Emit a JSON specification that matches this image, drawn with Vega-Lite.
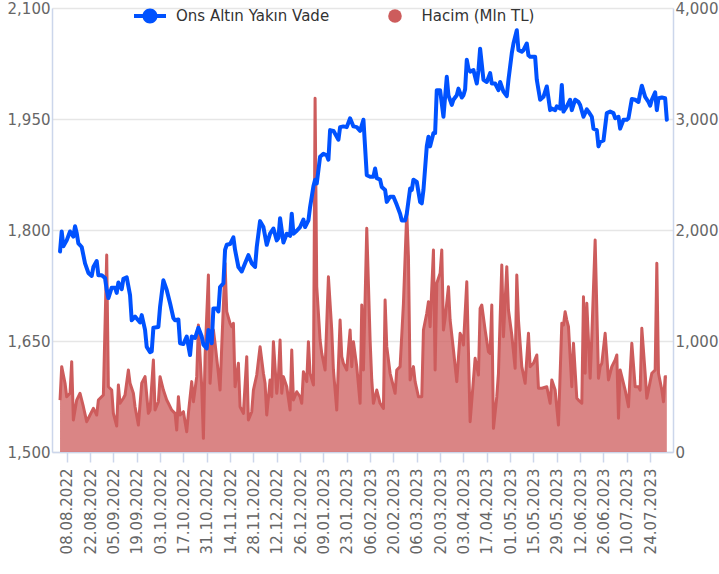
{
"$schema": "https://vega.github.io/schema/vega-lite/v6.json",
"width": 621, "height": 444,
"autosize": {"type": "none"},
"padding": {"left": 52, "top": 8, "right": 46, "bottom": 122},
"background": "white",
"config": {
  "font": "DejaVu Sans",
  "view": {"stroke": null},
  "axis": {"labelFont": "DejaVu Sans", "labelFontSize": 15, "labelColor": "#666666", "domainColor": "#ccd6eb", "domainWidth": 1.5, "gridColor": "#e6e6e6", "gridWidth": 1.5, "labelFlush": false, "labelOverlap": false},
  "legend": {"labelFont": "DejaVu Sans", "labelFontSize": 15, "labelColor": "#333333", "padding": 0}
},
"datasets": {
"price": [
{"date":"2022-08-04","price":1771},{"date":"2022-08-05","price":1798},{"date":"2022-08-06","price":1778},{"date":"2022-08-08","price":1786},{"date":"2022-08-10","price":1798},{"date":"2022-08-12","price":1791},{"date":"2022-08-13","price":1805},{"date":"2022-08-14","price":1796},{"date":"2022-08-15","price":1782},{"date":"2022-08-17","price":1777},{"date":"2022-08-19","price":1755},{"date":"2022-08-21","price":1742},{"date":"2022-08-23","price":1738},{"date":"2022-08-24","price":1750},{"date":"2022-08-26","price":1758},{"date":"2022-08-27","price":1739},{"date":"2022-08-29","price":1739},{"date":"2022-08-31","price":1735},
{"date":"2022-09-01","price":1719},{"date":"2022-09-02","price":1708},{"date":"2022-09-04","price":1722},{"date":"2022-09-06","price":1722},{"date":"2022-09-07","price":1715},{"date":"2022-09-08","price":1729},{"date":"2022-09-10","price":1720},{"date":"2022-09-11","price":1734},{"date":"2022-09-13","price":1736},{"date":"2022-09-15","price":1712},{"date":"2022-09-16","price":1678},{"date":"2022-09-18","price":1683},{"date":"2022-09-21","price":1675},{"date":"2022-09-22","price":1685},{"date":"2022-09-24","price":1665},{"date":"2022-09-25","price":1642},{"date":"2022-09-27","price":1635},{"date":"2022-09-28","price":1636},{"date":"2022-09-29","price":1668},
{"date":"2022-10-02","price":1669},{"date":"2022-10-03","price":1696},{"date":"2022-10-05","price":1732},{"date":"2022-10-07","price":1719},{"date":"2022-10-09","price":1701},{"date":"2022-10-11","price":1681},{"date":"2022-10-12","price":1678},{"date":"2022-10-14","price":1679},{"date":"2022-10-15","price":1647},{"date":"2022-10-17","price":1646},{"date":"2022-10-19","price":1656},{"date":"2022-10-21","price":1631},{"date":"2022-10-22","price":1656},{"date":"2022-10-24","price":1654},{"date":"2022-10-26","price":1668},{"date":"2022-10-28","price":1656},{"date":"2022-10-29","price":1645},{"date":"2022-10-31","price":1640},
{"date":"2022-11-01","price":1665},{"date":"2022-11-03","price":1647},{"date":"2022-11-04","price":1694},{"date":"2022-11-06","price":1694},{"date":"2022-11-07","price":1690},{"date":"2022-11-08","price":1723},{"date":"2022-11-10","price":1728},{"date":"2022-11-11","price":1773},{"date":"2022-11-12","price":1780},{"date":"2022-11-14","price":1781},{"date":"2022-11-16","price":1790},{"date":"2022-11-17","price":1773},{"date":"2022-11-19","price":1750},{"date":"2022-11-21","price":1744},{"date":"2022-11-23","price":1755},{"date":"2022-11-25","price":1766},{"date":"2022-11-27","price":1755},{"date":"2022-11-29","price":1750},{"date":"2022-11-30","price":1777},
{"date":"2022-12-02","price":1812},{"date":"2022-12-04","price":1804},{"date":"2022-12-06","price":1780},{"date":"2022-12-08","price":1795},{"date":"2022-12-10","price":1802},{"date":"2022-12-12","price":1786},{"date":"2022-12-13","price":1789},{"date":"2022-12-14","price":1816},{"date":"2022-12-16","price":1783},{"date":"2022-12-18","price":1795},{"date":"2022-12-20","price":1792},{"date":"2022-12-21","price":1822},{"date":"2022-12-22","price":1795},{"date":"2022-12-24","price":1799},{"date":"2022-12-26","price":1804},{"date":"2022-12-28","price":1814},{"date":"2022-12-29","price":1804},{"date":"2022-12-31","price":1813},
{"date":"2023-01-01","price":1831},{"date":"2023-01-03","price":1859},{"date":"2023-01-04","price":1868},{"date":"2023-01-05","price":1863},{"date":"2023-01-07","price":1899},{"date":"2023-01-09","price":1903},{"date":"2023-01-11","price":1901},{"date":"2023-01-12","price":1895},{"date":"2023-01-13","price":1935},{"date":"2023-01-15","price":1934},{"date":"2023-01-18","price":1922},{"date":"2023-01-19","price":1939},{"date":"2023-01-21","price":1940},{"date":"2023-01-23","price":1939},{"date":"2023-01-25","price":1951},{"date":"2023-01-27","price":1940},{"date":"2023-01-29","price":1939},{"date":"2023-01-31","price":1934},
{"date":"2023-02-02","price":1949},{"date":"2023-02-04","price":1874},{"date":"2023-02-06","price":1872},{"date":"2023-02-08","price":1872},{"date":"2023-02-09","price":1883},{"date":"2023-02-10","price":1870},{"date":"2023-02-12","price":1868},{"date":"2023-02-13","price":1858},{"date":"2023-02-15","price":1854},{"date":"2023-02-16","price":1838},{"date":"2023-02-18","price":1845},{"date":"2023-02-20","price":1845},{"date":"2023-02-22","price":1834},{"date":"2023-02-24","price":1822},{"date":"2023-02-25","price":1813},{"date":"2023-02-27","price":1813},{"date":"2023-02-28","price":1822},
{"date":"2023-03-02","price":1856},{"date":"2023-03-03","price":1854},{"date":"2023-03-04","price":1868},{"date":"2023-03-06","price":1865},{"date":"2023-03-08","price":1838},{"date":"2023-03-09","price":1836},{"date":"2023-03-10","price":1854},{"date":"2023-03-12","price":1913},{"date":"2023-03-13","price":1926},{"date":"2023-03-14","price":1913},{"date":"2023-03-16","price":1931},{"date":"2023-03-17","price":1931},{"date":"2023-03-18","price":1989},{"date":"2023-03-20","price":1989},{"date":"2023-03-22","price":1953},{"date":"2023-03-24","price":2007},{"date":"2023-03-25","price":1982},{"date":"2023-03-27","price":1969},{"date":"2023-03-28","price":1976},{"date":"2023-03-30","price":1982},{"date":"2023-03-31","price":1991},
{"date":"2023-04-02","price":1979},{"date":"2023-04-03","price":1982},{"date":"2023-04-04","price":1990},{"date":"2023-04-05","price":2030},{"date":"2023-04-06","price":2018},{"date":"2023-04-07","price":2014},{"date":"2023-04-09","price":2016},{"date":"2023-04-11","price":1998},{"date":"2023-04-12","price":2016},{"date":"2023-04-13","price":2045},{"date":"2023-04-15","price":2003},{"date":"2023-04-17","price":2000},{"date":"2023-04-19","price":2012},{"date":"2023-04-20","price":1998},{"date":"2023-04-22","price":1998},{"date":"2023-04-24","price":1989},{"date":"2023-04-25","price":2000},{"date":"2023-04-27","price":1987},{"date":"2023-04-29","price":1981},{"date":"2023-04-30","price":2003},
{"date":"2023-05-02","price":2039},{"date":"2023-05-03","price":2052},{"date":"2023-05-05","price":2070},{"date":"2023-05-06","price":2043},{"date":"2023-05-08","price":2041},{"date":"2023-05-09","price":2043},{"date":"2023-05-11","price":2052},{"date":"2023-05-12","price":2036},{"date":"2023-05-13","price":2034},{"date":"2023-05-16","price":2034},{"date":"2023-05-17","price":2003},{"date":"2023-05-19","price":1976},{"date":"2023-05-21","price":1980},{"date":"2023-05-23","price":1994},{"date":"2023-05-25","price":1962},{"date":"2023-05-26","price":1964},{"date":"2023-05-28","price":1962},{"date":"2023-05-29","price":1967},{"date":"2023-05-31","price":1964},
{"date":"2023-06-01","price":1996},{"date":"2023-06-02","price":1960},{"date":"2023-06-04","price":1967},{"date":"2023-06-06","price":1976},{"date":"2023-06-07","price":1962},{"date":"2023-06-09","price":1976},{"date":"2023-06-11","price":1973},{"date":"2023-06-12","price":1969},{"date":"2023-06-14","price":1953},{"date":"2023-06-16","price":1963},{"date":"2023-06-17","price":1960},{"date":"2023-06-19","price":1953},{"date":"2023-06-20","price":1937},{"date":"2023-06-22","price":1935},{"date":"2023-06-23","price":1913},{"date":"2023-06-24","price":1919},{"date":"2023-06-26","price":1921},{"date":"2023-06-28","price":1958},{"date":"2023-06-30","price":1960},
{"date":"2023-07-02","price":1958},{"date":"2023-07-03","price":1951},{"date":"2023-07-05","price":1953},{"date":"2023-07-06","price":1937},{"date":"2023-07-08","price":1949},{"date":"2023-07-10","price":1949},{"date":"2023-07-11","price":1951},{"date":"2023-07-13","price":1977},{"date":"2023-07-15","price":1976},{"date":"2023-07-17","price":1973},{"date":"2023-07-18","price":1985},{"date":"2023-07-19","price":1995},{"date":"2023-07-21","price":1980},{"date":"2023-07-23","price":1973},{"date":"2023-07-24","price":1968},{"date":"2023-07-25","price":1976},{"date":"2023-07-27","price":1986},{"date":"2023-07-28","price":1962},{"date":"2023-07-29","price":1978},{"date":"2023-07-31","price":1979},{"date":"2023-08-02","price":1978},{"date":"2023-08-03","price":1949}
],
"volume": [
{"date":"2022-08-04","volume":468},{"date":"2022-08-05","volume":769},{"date":"2022-08-07","volume":619},{"date":"2022-08-08","volume":498},{"date":"2022-08-10","volume":529},{"date":"2022-08-11","volume":814},{"date":"2022-08-12","volume":288},{"date":"2022-08-14","volume":468},{"date":"2022-08-16","volume":529},{"date":"2022-08-18","volume":408},{"date":"2022-08-20","volume":273},{"date":"2022-08-22","volume":333},{"date":"2022-08-24","volume":393},{"date":"2022-08-26","volume":333},{"date":"2022-08-27","volume":468},{"date":"2022-08-30","volume":513},
{"date":"2022-09-01","volume":1775},{"date":"2022-09-02","volume":588},{"date":"2022-09-04","volume":558},{"date":"2022-09-05","volume":348},{"date":"2022-09-07","volume":234},{"date":"2022-09-08","volume":604},{"date":"2022-09-09","volume":439},{"date":"2022-09-11","volume":484},{"date":"2022-09-12","volume":513},{"date":"2022-09-14","volume":739},{"date":"2022-09-15","volume":619},{"date":"2022-09-17","volume":529},{"date":"2022-09-18","volume":408},{"date":"2022-09-20","volume":243},{"date":"2022-09-22","volume":619},{"date":"2022-09-24","volume":679},{"date":"2022-09-26","volume":348},{"date":"2022-09-27","volume":378},{"date":"2022-09-29","volume":829},{"date":"2022-09-30","volume":378},
{"date":"2022-10-02","volume":453},{"date":"2022-10-03","volume":679},{"date":"2022-10-05","volume":558},{"date":"2022-10-07","volume":468},{"date":"2022-10-08","volume":439},{"date":"2022-10-10","volume":378},{"date":"2022-10-12","volume":348},{"date":"2022-10-13","volume":198},{"date":"2022-10-14","volume":498},{"date":"2022-10-15","volume":333},{"date":"2022-10-17","volume":363},{"date":"2022-10-19","volume":183},{"date":"2022-10-20","volume":348},{"date":"2022-10-22","volume":634},{"date":"2022-10-23","volume":453},{"date":"2022-10-25","volume":679},{"date":"2022-10-26","volume":1144},{"date":"2022-10-27","volume":859},{"date":"2022-10-28","volume":588},{"date":"2022-10-29","volume":123},{"date":"2022-10-30","volume":859},
{"date":"2022-11-01","volume":1595},{"date":"2022-11-02","volume":619},{"date":"2022-11-04","volume":1099},{"date":"2022-11-05","volume":979},{"date":"2022-11-07","volume":709},{"date":"2022-11-08","volume":558},{"date":"2022-11-09","volume":949},{"date":"2022-11-11","volume":1700},{"date":"2022-11-12","volume":1264},{"date":"2022-11-14","volume":1159},{"date":"2022-11-15","volume":1129},{"date":"2022-11-16","volume":1159},{"date":"2022-11-17","volume":588},{"date":"2022-11-19","volume":799},{"date":"2022-11-20","volume":408},{"date":"2022-11-22","volume":348},{"date":"2022-11-24","volume":859},{"date":"2022-11-25","volume":288},{"date":"2022-11-27","volume":363},{"date":"2022-11-28","volume":558},{"date":"2022-11-30","volume":694},
{"date":"2022-12-02","volume":949},{"date":"2022-12-04","volume":709},{"date":"2022-12-05","volume":619},{"date":"2022-12-06","volume":333},{"date":"2022-12-08","volume":649},{"date":"2022-12-09","volume":498},{"date":"2022-12-10","volume":994},{"date":"2022-12-12","volume":529},{"date":"2022-12-13","volume":679},{"date":"2022-12-14","volume":1009},{"date":"2022-12-15","volume":529},{"date":"2022-12-16","volume":679},{"date":"2022-12-18","volume":588},{"date":"2022-12-20","volume":378},{"date":"2022-12-21","volume":919},{"date":"2022-12-22","volume":468},{"date":"2022-12-24","volume":543},{"date":"2022-12-26","volume":498},{"date":"2022-12-27","volume":439},{"date":"2022-12-28","volume":724},{"date":"2022-12-30","volume":634},{"date":"2022-12-31","volume":994},
{"date":"2023-01-01","volume":709},{"date":"2023-01-03","volume":604},{"date":"2023-01-04","volume":3187},{"date":"2023-01-05","volume":1489},{"date":"2023-01-07","volume":1009},{"date":"2023-01-08","volume":889},{"date":"2023-01-10","volume":739},{"date":"2023-01-12","volume":1579},{"date":"2023-01-14","volume":1099},{"date":"2023-01-15","volume":739},{"date":"2023-01-17","volume":378},{"date":"2023-01-19","volume":1189},{"date":"2023-01-20","volume":859},{"date":"2023-01-21","volume":799},{"date":"2023-01-23","volume":739},{"date":"2023-01-25","volume":1099},{"date":"2023-01-26","volume":769},{"date":"2023-01-27","volume":994},{"date":"2023-01-29","volume":769},{"date":"2023-01-31","volume":439},
{"date":"2023-02-01","volume":1324},{"date":"2023-02-02","volume":739},{"date":"2023-02-04","volume":2015},{"date":"2023-02-06","volume":1009},{"date":"2023-02-07","volume":649},{"date":"2023-02-08","volume":439},{"date":"2023-02-10","volume":558},{"date":"2023-02-12","volume":439},{"date":"2023-02-14","volume":393},{"date":"2023-02-15","volume":1369},{"date":"2023-02-16","volume":949},{"date":"2023-02-18","volume":709},{"date":"2023-02-20","volume":588},{"date":"2023-02-21","volume":529},{"date":"2023-02-22","volume":739},{"date":"2023-02-24","volume":769},{"date":"2023-02-26","volume":1340},{"date":"2023-02-28","volume":2165},
{"date":"2023-03-01","volume":1760},{"date":"2023-03-02","volume":649},{"date":"2023-03-04","volume":769},{"date":"2023-03-05","volume":634},{"date":"2023-03-07","volume":498},{"date":"2023-03-09","volume":498},{"date":"2023-03-10","volume":1099},{"date":"2023-03-12","volume":1250},{"date":"2023-03-13","volume":1354},{"date":"2023-03-14","volume":1129},{"date":"2023-03-16","volume":1820},{"date":"2023-03-17","volume":739},{"date":"2023-03-18","volume":1520},{"date":"2023-03-20","volume":1610},{"date":"2023-03-21","volume":1820},{"date":"2023-03-22","volume":1099},{"date":"2023-03-23","volume":1204},{"date":"2023-03-25","volume":1489},{"date":"2023-03-26","volume":1189},{"date":"2023-03-28","volume":919},{"date":"2023-03-30","volume":634},
{"date":"2023-04-01","volume":1069},{"date":"2023-04-02","volume":1039},{"date":"2023-04-03","volume":964},{"date":"2023-04-05","volume":1534},{"date":"2023-04-07","volume":273},{"date":"2023-04-10","volume":844},{"date":"2023-04-12","volume":694},{"date":"2023-04-13","volume":1294},{"date":"2023-04-14","volume":1324},{"date":"2023-04-16","volume":1099},{"date":"2023-04-18","volume":904},{"date":"2023-04-19","volume":889},{"date":"2023-04-20","volume":1324},{"date":"2023-04-21","volume":213},{"date":"2023-04-23","volume":498},{"date":"2023-04-24","volume":709},{"date":"2023-04-26","volume":1685},{"date":"2023-04-27","volume":1039},{"date":"2023-04-29","volume":1670},{"date":"2023-04-30","volume":1279},
{"date":"2023-05-02","volume":1054},{"date":"2023-05-04","volume":754},{"date":"2023-05-05","volume":1595},{"date":"2023-05-06","volume":1189},{"date":"2023-05-08","volume":769},{"date":"2023-05-10","volume":619},{"date":"2023-05-12","volume":1069},{"date":"2023-05-13","volume":769},{"date":"2023-05-15","volume":799},{"date":"2023-05-17","volume":874},{"date":"2023-05-18","volume":574},{"date":"2023-05-20","volume":574},{"date":"2023-05-23","volume":588},{"date":"2023-05-25","volume":439},{"date":"2023-05-26","volume":649},{"date":"2023-05-28","volume":558},{"date":"2023-05-30","volume":243},
{"date":"2023-06-01","volume":1159},{"date":"2023-06-02","volume":1144},{"date":"2023-06-03","volume":1264},{"date":"2023-06-04","volume":1189},{"date":"2023-06-05","volume":1129},{"date":"2023-06-07","volume":588},{"date":"2023-06-08","volume":979},{"date":"2023-06-10","volume":484},{"date":"2023-06-11","volume":468},{"date":"2023-06-13","volume":439},{"date":"2023-06-14","volume":1399},{"date":"2023-06-15","volume":709},{"date":"2023-06-16","volume":1340},{"date":"2023-06-18","volume":664},{"date":"2023-06-19","volume":1039},{"date":"2023-06-21","volume":1910},{"date":"2023-06-23","volume":664},{"date":"2023-06-24","volume":769},{"date":"2023-06-25","volume":799},{"date":"2023-06-27","volume":1069},{"date":"2023-06-29","volume":649},
{"date":"2023-07-01","volume":769},{"date":"2023-07-03","volume":829},{"date":"2023-07-04","volume":874},{"date":"2023-07-05","volume":304},{"date":"2023-07-06","volume":739},{"date":"2023-07-09","volume":558},{"date":"2023-07-11","volume":408},{"date":"2023-07-12","volume":709},{"date":"2023-07-13","volume":979},{"date":"2023-07-15","volume":588},{"date":"2023-07-17","volume":588},{"date":"2023-07-18","volume":558},{"date":"2023-07-19","volume":1114},{"date":"2023-07-21","volume":709},{"date":"2023-07-22","volume":484},{"date":"2023-07-23","volume":558},{"date":"2023-07-25","volume":709},{"date":"2023-07-27","volume":739},{"date":"2023-07-28","volume":1700},{"date":"2023-07-29","volume":709},{"date":"2023-07-31","volume":558},{"date":"2023-08-01","volume":453},{"date":"2023-08-02","volume":679},{"date":"2023-08-03","volume":679}
]
},
"encoding": {
  "x": {"field": "date", "type": "temporal",
    "scale": {"type": "utc", "domain": [{"year": 2022, "month": 7, "date": 30, "hours": 4, "minutes": 20, "utc": true}, {"year": 2023, "month": 8, "date": 6, "hours": 16, "minutes": 50, "utc": true}]},
    "axis": {"title": null, "grid": false, "format": "%d.%m.%Y", "labelAngle": 270, "tickColor": "#ccd6eb", "tickSize": 10, "tickWidth": 1.5, "labelPadding": 6,
      "values": [
        {"year": 2022, "month": 8, "date": 8, "utc": true}, {"year": 2022, "month": 8, "date": 22, "utc": true},
        {"year": 2022, "month": 9, "date": 5, "utc": true}, {"year": 2022, "month": 9, "date": 19, "utc": true},
        {"year": 2022, "month": 10, "date": 3, "utc": true}, {"year": 2022, "month": 10, "date": 17, "utc": true},
        {"year": 2022, "month": 10, "date": 31, "utc": true}, {"year": 2022, "month": 11, "date": 14, "utc": true},
        {"year": 2022, "month": 11, "date": 28, "utc": true}, {"year": 2022, "month": 12, "date": 12, "utc": true},
        {"year": 2022, "month": 12, "date": 26, "utc": true}, {"year": 2023, "month": 1, "date": 9, "utc": true},
        {"year": 2023, "month": 1, "date": 23, "utc": true}, {"year": 2023, "month": 2, "date": 6, "utc": true},
        {"year": 2023, "month": 2, "date": 20, "utc": true}, {"year": 2023, "month": 3, "date": 6, "utc": true},
        {"year": 2023, "month": 3, "date": 20, "utc": true}, {"year": 2023, "month": 4, "date": 3, "utc": true},
        {"year": 2023, "month": 4, "date": 17, "utc": true}, {"year": 2023, "month": 5, "date": 1, "utc": true},
        {"year": 2023, "month": 5, "date": 15, "utc": true}, {"year": 2023, "month": 5, "date": 29, "utc": true},
        {"year": 2023, "month": 6, "date": 12, "utc": true}, {"year": 2023, "month": 6, "date": 26, "utc": true},
        {"year": 2023, "month": 7, "date": 10, "utc": true}, {"year": 2023, "month": 7, "date": 24, "utc": true}
      ]}}
},
"layer": [
  {
    "data": {"name": "volume"},
    "encoding": {
      "y": {"field": "volume", "type": "quantitative", "scale": {"domain": [0, 4000], "nice": false, "zero": true},
        "axis": {"orient": "right", "title": null, "grid": false, "ticks": false, "labelPadding": 2, "values": [0, 1000, 2000, 3000, 4000], "format": ",d"}}
    },
    "layer": [
      {"mark": {"type": "area", "fillOpacity": 0.75},
       "encoding": {"fill": {"datum": "Hacim (Mln TL)", "type": "nominal", "scale": {"range": ["#cd5c5c"]},
         "legend": {"orient": "none", "legendX": 335.5, "legendY": 0.5, "title": null, "direction": "horizontal", "symbolType": "circle", "symbolSize": 184, "symbolOpacity": 1, "symbolStrokeWidth": 0, "symbolFillColor": "#cd5c5c", "labelOffset": 19,
           "encode": {"symbols": {"update": {"fill": {"value": "#cd5c5c"}, "opacity": {"value": 1}, "fillOpacity": {"value": 1}, "strokeWidth": {"value": 0}}}}}}}},
      {"mark": {"type": "line", "color": "#cd5c5c", "strokeWidth": 3, "strokeJoin": "round"}, "encoding": {}}
    ]
  },
  {
    "data": {"name": "price"},
    "mark": {"type": "line", "strokeWidth": 4, "strokeJoin": "round", "strokeCap": "round"},
    "encoding": {
      "y": {"field": "price", "type": "quantitative", "scale": {"domain": [1500, 2100], "nice": false, "zero": false},
        "axis": {"orient": "left", "title": null, "grid": true, "ticks": false, "labelPadding": 2, "values": [1500, 1650, 1800, 1950, 2100], "format": ",d"}},
      "stroke": {"datum": "Ons Altın Yakın Vade", "type": "nominal", "scale": {"range": ["#0052ff"]},
        "legend": {"orient": "none", "legendX": 82, "legendY": -8, "title": null, "direction": "horizontal",
          "symbolType": "M-1,-0.125H1V0.125H-1Z M-0.47,0A0.47,0.47,0,1,1,0.47,0A0.47,0.47,0,1,1,-0.47,0Z",
          "symbolSize": 1024, "symbolStrokeWidth": 0, "symbolFillColor": "#0052ff", "labelOffset": 10,
          "encode": {"symbols": {"update": {"fill": {"value": "#0052ff"}, "strokeWidth": {"value": 0}, "opacity": {"value": 1}}}}}}
    }
  }
],
"resolve": {"scale": {"y": "independent", "fill": "independent", "stroke": "independent"}}
}
